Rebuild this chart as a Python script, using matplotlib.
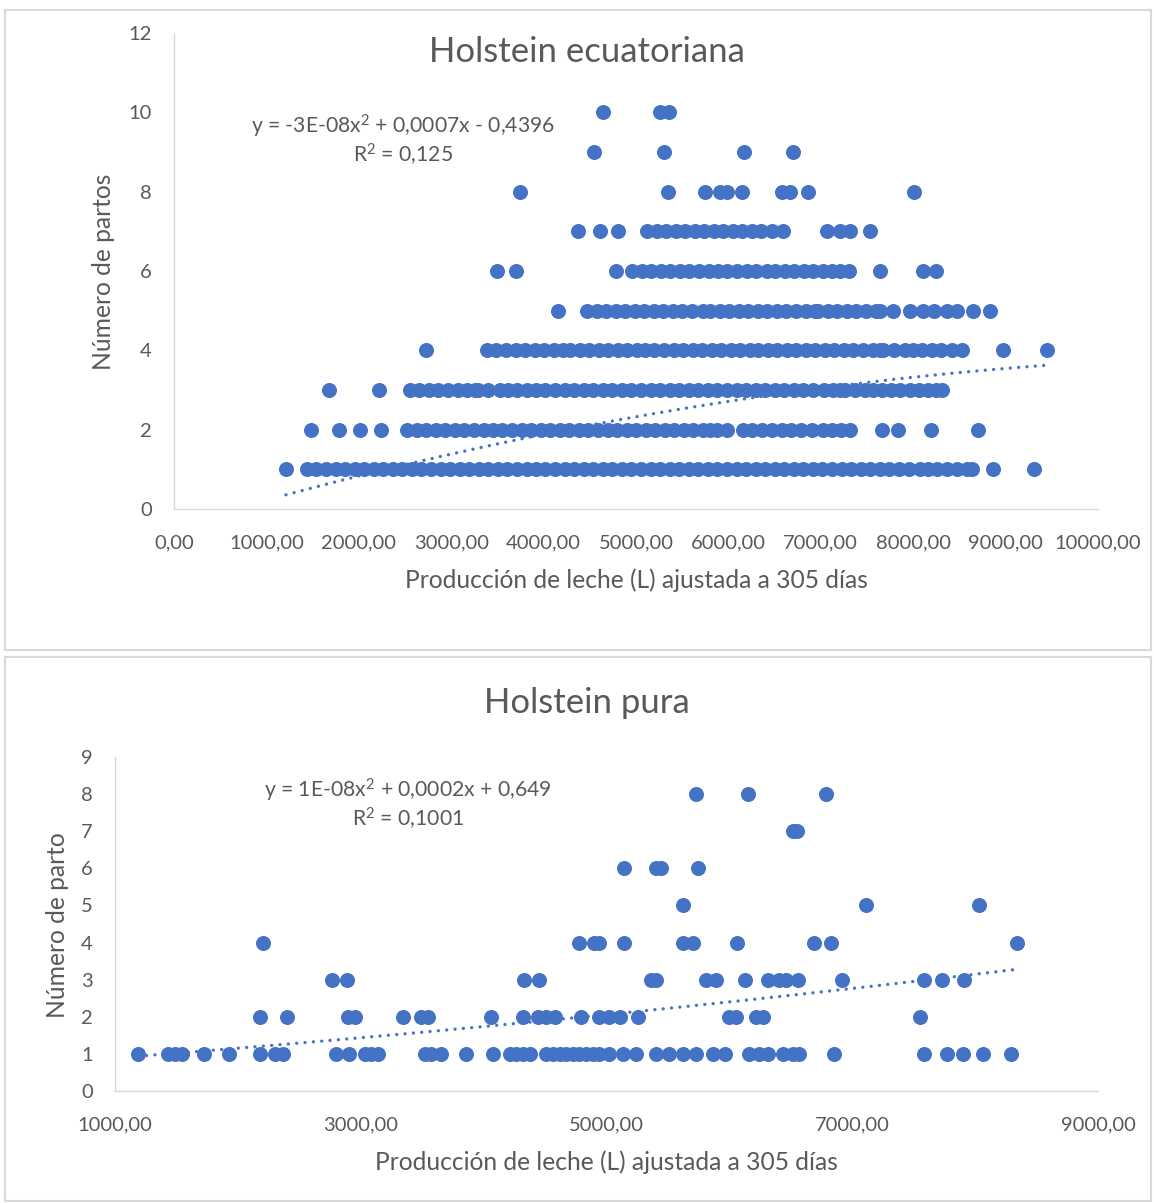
import numpy as np
import matplotlib
matplotlib.use("Agg")
import matplotlib.pyplot as plt
from matplotlib.patches import Rectangle

plt.rcParams['font.family'] = ['Lato', 'DejaVu Sans']
plt.rcParams['mathtext.fontset'] = 'custom'
plt.rcParams['mathtext.rm'] = 'Lato'
plt.rcParams['mathtext.it'] = 'Lato'

# Holstein ecuatoriana: producción (L) por número de partos
ecu_1 = [1212, 1439, 1540, 1645, 1748, 1850, 1955, 2058, 2160, 2265, 2368, 2470, 2575,
         2678, 2780, 2885, 2988, 3090, 3195, 3298, 3400, 3505, 3608, 3710, 3815, 3918,
         4020, 4125, 4228, 4330, 4435, 4538, 4640, 4745, 4848, 4950, 5055, 5158, 5260,
         5365, 5468, 5570, 5675, 5778, 5880, 5985, 6088, 6190, 6295, 6398, 6500, 6605,
         6708, 6810, 6915, 7018, 7120, 7225, 7328, 7430, 7535, 7638, 7740, 7845, 7950,
         8074, 8160, 8258, 8370, 8474, 8582, 8636, 8864, 9307]
ecu_2 = [1483, 1786, 2013, 2240, 2522, 2625, 2730, 2832, 2935, 3040, 3142, 3245, 3350,
         3452, 3555, 3660, 3762, 3865, 3970, 4072, 4175, 4280, 4382, 4485, 4590, 4692,
         4795, 4900, 5002, 5105, 5210, 5312, 5415, 5520, 5622, 5725, 5800, 5877, 5985,
         6158, 6260, 6365, 6470, 6575, 6680, 6785, 6905, 7024, 7120, 7215, 7316, 7662,
         7835, 8193, 8701]
ecu_3 = [1677, 2219, 2554, 2655, 2760, 2862, 2965, 3070, 3172, 3258, 3290, 3395, 3528,
         3615, 3712, 3815, 3918, 4020, 4125, 4228, 4330, 4435, 4538, 4640, 4745, 4848,
         4950, 5055, 5158, 5260, 5365, 5468, 5570, 5675, 5778, 5880, 5985, 6088, 6190,
         6295, 6398, 6500, 6605, 6708, 6810, 6915, 7030, 7130, 7208, 7260, 7370, 7478,
         7560, 7660, 7760, 7860, 7960, 8060, 8160, 8250, 8312]
ecu_4 = [2727, 3387, 3490, 3595, 3698, 3800, 3905, 4008, 4110, 4215, 4286, 4390, 4495,
         4598, 4700, 4805, 4908, 5010, 5097, 5200, 5305, 5408, 5510, 5615, 5718, 5820,
         5925, 6028, 6130, 6235, 6320, 6425, 6528, 6630, 6735, 6838, 6940, 7045, 7148,
         7250, 7348, 7460, 7560, 7641, 7673, 7790, 7911, 7998, 8095, 8200, 8300, 8420,
         8528, 8972, 9448]
ecu_5 = [4156, 4470, 4578, 4680, 4785, 4881, 4985, 5090, 5192, 5295, 5400, 5502, 5605,
         5725, 5801, 5905, 6008, 6110, 6215, 6318, 6420, 6525, 6628, 6730, 6835, 6937,
         6970, 7075, 7180, 7282, 7385, 7490, 7592, 7641, 7781, 7965, 8106, 8230, 8366,
         8474, 8647, 8831]
ecu_6 = [3496, 3701, 4784, 4957, 5060, 5165, 5268, 5370, 5475, 5578, 5680, 5785, 5888,
         5990, 6095, 6198, 6300, 6418, 6504, 6608, 6712, 6815, 6920, 7022, 7125, 7208,
         7305, 7641, 8106, 8247]
ecu_7 = [4372, 4610, 4805, 5119, 5222, 5325, 5428, 5530, 5635, 5738, 5840, 5945, 6048,
         6150, 6255, 6358, 6472, 6591, 7067, 7208, 7316, 7532]
ecu_8 = [3745, 5346, 5747, 5909, 5985, 6147, 6580, 6667, 6861, 8009]
ecu_9 = [4545, 5303, 6169, 6699]
ecu_10 = [4643, 5260, 5357]

# Holstein pura
pura_1 = [1189, 1433, 1488, 1542, 1724, 1927, 2179, 2301, 2368, 2802, 2905, 3033, 3087,
          3141, 3520, 3575, 3656, 3859, 4076, 4211, 4266, 4320, 4374, 4510, 4563, 4618,
          4672, 4726, 4780, 4835, 4889, 4943, 5024, 5133, 5241, 5404, 5512, 5620, 5729,
          5864, 5965, 6163, 6244, 6311, 6433, 6515, 6563, 6854, 7585, 7770, 7905, 8063,
          8293]
pura_2 = [2179, 2396, 2897, 2951, 3344, 3493, 3547, 4062, 4320, 4442, 4510, 4577, 4794,
          4940, 5024, 5106, 5260, 5999, 6054, 6217, 6271, 7553]
pura_3 = [2762, 2889, 4328, 4450, 5363, 5404, 5810, 5892, 6130, 6311, 6407, 6461, 6556,
          6913, 7585, 7734, 7911]
pura_4 = [2201, 4780, 4902, 4943, 5146, 5626, 5702, 6059, 6691, 6827, 8339]
pura_5 = [5620, 7111, 8033]
pura_6 = [5146, 5404, 5445, 5742]
pura_7 = [6515, 6547]
pura_8 = [5729, 6149, 6786]

# tendencia polinómica (orden 2): a, b, c
ecu_trend = [-2.76e-08, 0.000691, -0.4396]
pura_trend = [1.0e-08, 0.000232, 0.649]

ecu_eq = ["y = -3E-08x$^{2}$ + 0,0007x - 0,4396", "R$^{2}$ = 0,125"]
pura_eq = ["y = 1E-08x$^{2}$ + 0,0002x + 0,649", "R$^{2}$ = 0,1001"]

BLUE = '#4472C4'
GREY = '#595959'
LINE = '#D9D9D9'


def to_xy(rows):
    xs, ys = [], []
    for n, row in enumerate(rows, start=1):
        xs += row
        ys += [n] * len(row)
    return np.array(xs, float), np.array(ys, float)


def comma(v):
    return f"{v:.2f}".replace('.', ',')


def draw(ax, rows, trend, xlim, xstep, ylim, ystep, xlabel, ylabel, xl_pos, yl_pos):
    x, y = to_xy(rows)
    ax.plot(x, y, 'o', color=BLUE, ms=10.8, mew=0, zorder=3)
    xt = np.linspace(x.min(), x.max(), 300)
    ax.plot(xt, np.polyval(trend, xt), color=BLUE, lw=2.4,
            linestyle=(0, (0.01, 2.5)), dash_capstyle='round', zorder=4)
    ax.set_xlim(*xlim)
    ax.set_ylim(*ylim)
    xticks = np.arange(xlim[0], xlim[1] + 1, xstep)
    ax.set_xticks(xticks)
    ax.set_xticklabels([comma(v) for v in xticks])
    ax.set_yticks(np.arange(ylim[0], ylim[1] + 1, ystep))
    ax.tick_params(axis='y', length=0, pad=16, labelsize=14.5, labelcolor=GREY)
    ax.tick_params(axis='x', length=0, pad=18, labelsize=14.5, labelcolor=GREY)
    for s in ['top', 'right']:
        ax.spines[s].set_visible(False)
    for s in ['left', 'bottom']:
        ax.spines[s].set_color(LINE)
        ax.spines[s].set_linewidth(1.0)
    ax.set_xlabel(xlabel, fontsize=17.7, color=GREY, va='center')
    ax.xaxis.set_label_coords(*xl_pos)
    ax.set_ylabel(ylabel, fontsize=17.7, color=GREY, va='center')
    ax.yaxis.set_label_coords(*yl_pos)


W, H = 1154, 1203
fig = plt.figure(figsize=(W / 100, H / 100), dpi=100)

# marcos de los gráficos
for y0, y1 in [(10, 650), (657, 1201)]:
    fig.patches.append(Rectangle((5 / W, 1 - y1 / H), 1146 / W, (y1 - y0) / H,
                                 transform=fig.transFigure, fill=False,
                                 edgecolor=LINE, lw=1.5))

ax1 = fig.add_axes([174 / W, 1 - 509 / H, 924 / W, 476 / H])
draw(ax1, [ecu_1, ecu_2, ecu_3, ecu_4, ecu_5, ecu_6, ecu_7, ecu_8, ecu_9, ecu_10],
     ecu_trend, (0, 10000), 1000, (0, 12), 2,
     "Producción de leche (L) ajustada a 305 días", "Número de partos",
     (0.5, -0.149), (-0.0758, 0.498))

ax2 = fig.add_axes([115 / W, 1 - 1091 / H, 983 / W, 334 / H])
draw(ax2, [pura_1, pura_2, pura_3, pura_4, pura_5, pura_6, pura_7, pura_8],
     pura_trend, (1000, 9000), 2000, (0, 9), 1,
     "Producción de leche (L) ajustada a 305 días", "Número de parto",
     (0.4995, -0.2126), (-0.058, 0.497))

fig.text(587 / W, 1 - 52 / H, "Holstein ecuatoriana", fontsize=25, color=GREY,
         ha='center', va='center')
fig.text(587 / W, 1 - 703 / H, "Holstein pura", fontsize=25, color=GREY,
         ha='center', va='center')

for (cx, cy), lines in [((403, 126), ecu_eq), ((408, 790), pura_eq)]:
    for i, t in enumerate(lines):
        fig.text(cx / W, 1 - (cy + 29 * i) / H, t, fontsize=15.2, color=GREY,
                 ha='center', va='center')

fig.savefig("out.png", dpi=100)
